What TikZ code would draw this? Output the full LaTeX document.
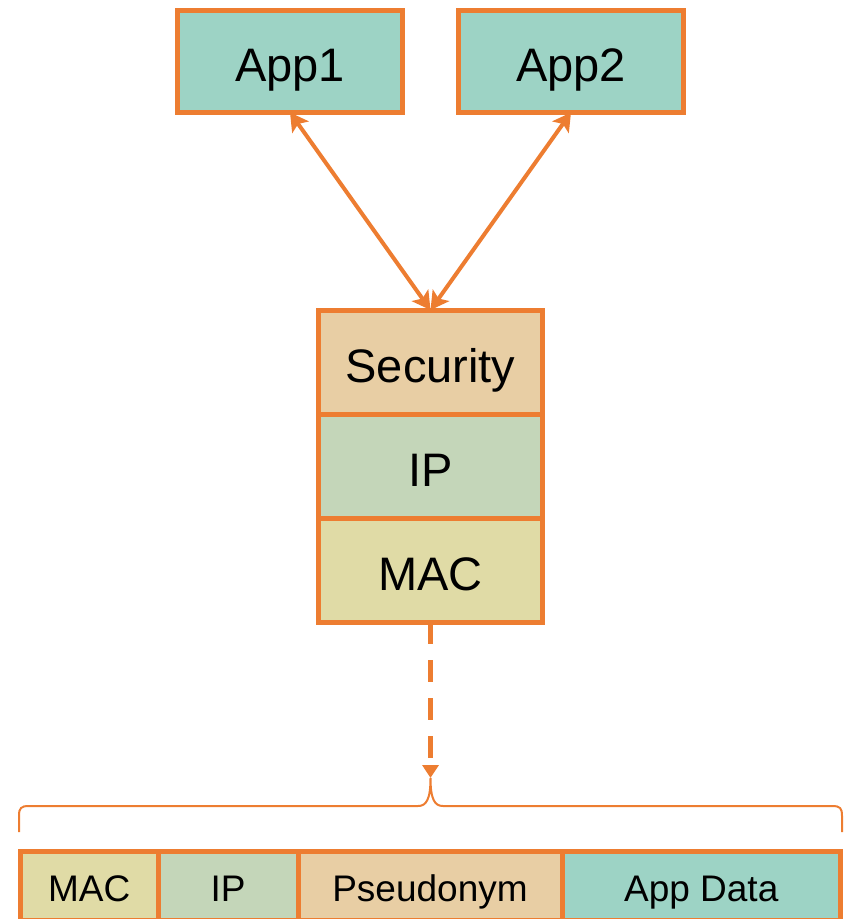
\documentclass[tikz,border=0pt]{standalone}
\usepackage{fontspec}
\setmainfont{Liberation Sans}
\usetikzlibrary{arrows.meta, positioning}
\definecolor{edgeorange}{RGB}{237, 125, 49}
\definecolor{appteal}{RGB}{157, 211, 197}
\definecolor{secsand}{RGB}{232, 206, 164}
\definecolor{ipgreen}{RGB}{196, 214, 185}
\definecolor{macolive}{RGB}{224, 219, 166}
\tikzset{
  appbox/.style     = {rectangle, draw=edgeorange, fill=appteal, line width=2.5pt, minimum width=112.5pt, minimum height=51pt, outer sep=0pt, font=\fontsize{23.5}{28}\selectfont, text height=21.3pt, text depth=1.2pt},
  layer/.style      = {rectangle, draw=edgeorange, line width=2.5pt, minimum width=112pt, minimum height=52pt, outer sep=0pt, font=\fontsize{23.5}{28}\selectfont, text height=21.3pt, text depth=1.2pt},
  cell/.style       = {rectangle, draw=edgeorange, line width=2.5pt, minimum height=34.5pt, outer sep=0pt, font=\fontsize{18.5}{22}\selectfont, text height=16.7pt, text depth=0.9pt},
  link/.style       = {{Stealth[length=9pt, width=10pt, inset=2pt]}-{Stealth[length=9pt, width=10pt, inset=2pt]}, line width=2pt, edgeorange},
  frameflow/.style  = {-{Triangle[length=6.5pt, width=8pt]}, line width=2.3pt, edgeorange, dash pattern=on 11pt off 8pt},
  framebrace/.style = {line width=1pt, edgeorange},
}
\begin{document}
\begin{tikzpicture}[x=0.5pt, y=-0.5pt]
  \useasboundingbox (0,0) rectangle (848,919);

  \node[appbox] (app1) at (290,61.5) {App1};
  \node[appbox] (app2) at (571,61.5) {App2};

  \node[layer, fill=secsand] (sec) at (430.5,362) {Security};
  \node[layer, fill=ipgreen, below=0pt of sec] (ip) {IP};
  \node[layer, fill=macolive, below=0pt of ip] (mac) {MAC};

  \draw[link] (app1.south) -- (sec.north);
  \draw[link] (app2.south) -- (sec.north);

  \coordinate (bl) at (19,832);
  \coordinate (br) at (842,832);
  \coordinate (bracetip) at (430.5,778);
  \draw[framebrace] (bl) -- (19,816) .. controls (19,808) and (21,806) .. (29,806)
    -- (418,806) .. controls (426,806) and (430.5,800) .. (bracetip)
    .. controls (430.5,800) and (435,806) .. (443,806)
    -- (832,806) .. controls (840,806) and (842,808) .. (842,816) -- (br);
  \draw[frameflow] (mac.south) -- (bracetip);

  \node[cell, fill=macolive, minimum width=68.75pt] (fmac) at (89.25,886) {MAC};
  \node[cell, fill=ipgreen, minimum width=70pt, right=0pt of fmac] (fip) {IP};
  \node[cell, fill=secsand, minimum width=132pt, right=0pt of fip] (fpseudo) {Pseudonym};
  \node[cell, fill=appteal, minimum width=139.25pt, right=0pt of fpseudo] (fdata) {App Data};
\end{tikzpicture}
\end{document}
